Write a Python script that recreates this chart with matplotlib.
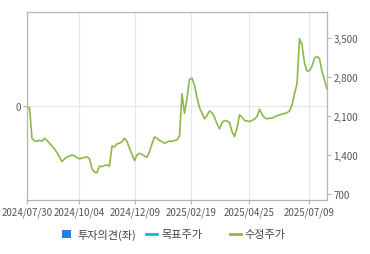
import matplotlib
matplotlib.use('Agg')
import matplotlib.pyplot as plt
from matplotlib.lines import Line2D
from matplotlib.patches import Rectangle

plt.rcParams['font.family'] = ['Noto Sans CJK KR', 'DejaVu Sans']

# adjusted price (right axis), roughly every other trading day
price = [2256, 2250, 1700, 1650, 1645, 1665, 1650, 1700, 1660, 1610,
         1560, 1510, 1440, 1360, 1280, 1330, 1365, 1380, 1400, 1385,
         1350, 1330, 1345, 1355, 1365, 1330, 1150, 1090, 1080, 1200,
         1190, 1210, 1220, 1200, 1560, 1545, 1600, 1610, 1640, 1700,
         1640, 1520, 1410, 1300, 1400, 1430, 1410, 1380, 1360, 1460,
         1600, 1725, 1700, 1660, 1640, 1610, 1630, 1650, 1645, 1660,
         1670, 1740, 2500, 2150, 2420, 2760, 2780, 2650, 2430, 2250,
         2150, 2050, 2110, 2190, 2160, 2080, 1960, 1870, 1980, 2020,
         2010, 1980, 1820, 1730, 1880, 2120, 2080, 2020, 2010, 2000,
         2020, 2045, 2090, 2220, 2130, 2070, 2050, 2060, 2060, 2085,
         2105, 2120, 2135, 2145, 2160, 2190, 2300, 2500, 2680, 3490,
         3380, 3050, 2910, 2915, 3000, 3140, 3170, 3130, 2900, 2750,
         2585]

tick_pos = [0, 20.9, 43.3, 65.7, 88.9, 112.9]
tick_labels = ['2024/07/30', '2024/10/04', '2024/12/09',
               '2025/02/19', '2025/04/25', '2025/07/09']
right_ticks = [700, 1400, 2100, 2800, 3500]
legend_labels = ['투자의견(좌)', '목표주가', '수정주가']

grey = '#b4b4b4'
green = '#8db84c'
blue = '#2a7de1'
teal = '#1fb3c8'

W, H = 370, 255
fig = plt.figure(figsize=(W / 100, H / 100), dpi=100)
ax = fig.add_axes([27/W, 54/H, 300/W, 188/H])
ax2 = ax.twinx()

ax2.plot(range(len(price)), price, color=green, lw=1.2)
ax2.set_ylim(590, 3970)
ax2.set_yticks(right_ticks)
ax2.set_yticklabels([f'{v:,}' for v in right_ticks])

ax.set_ylim(-1, 1)
ax.set_yticks([0])
ax.set_xlim(0, len(price) - 1)
ax.set_xticks(tick_pos)
ax.set_xticklabels(tick_labels)
ax.grid(True, color='#e6e6e6', lw=0.8)
ax.set_axisbelow(True)

for a in (ax, ax2):
    for s in a.spines.values():
        s.set_color(grey)
    a.tick_params(colors=grey, labelcolor='#555555', labelsize=7, length=3, width=0.8, pad=1.5)

# legend drawn by hand (item spacing is uneven in the original)
ly = 1 - 235 / H
fig.add_artist(Rectangle((62/W, 1 - 239/H), 9/W, 8/H, transform=fig.transFigure,
                         color=blue, lw=0))
fig.add_artist(Line2D([146/W, 157/W], [ly, ly], transform=fig.transFigure, color=teal, lw=2))
fig.add_artist(Line2D([230/W, 241/W], [ly, ly], transform=fig.transFigure, color=green, lw=2))
for x0, lab in zip([77, 161, 244], legend_labels):
    fig.text(x0 / W, ly, lab, fontsize=8, color='#444444', va='center', ha='left')

fig.savefig('out.png', dpi=100)
